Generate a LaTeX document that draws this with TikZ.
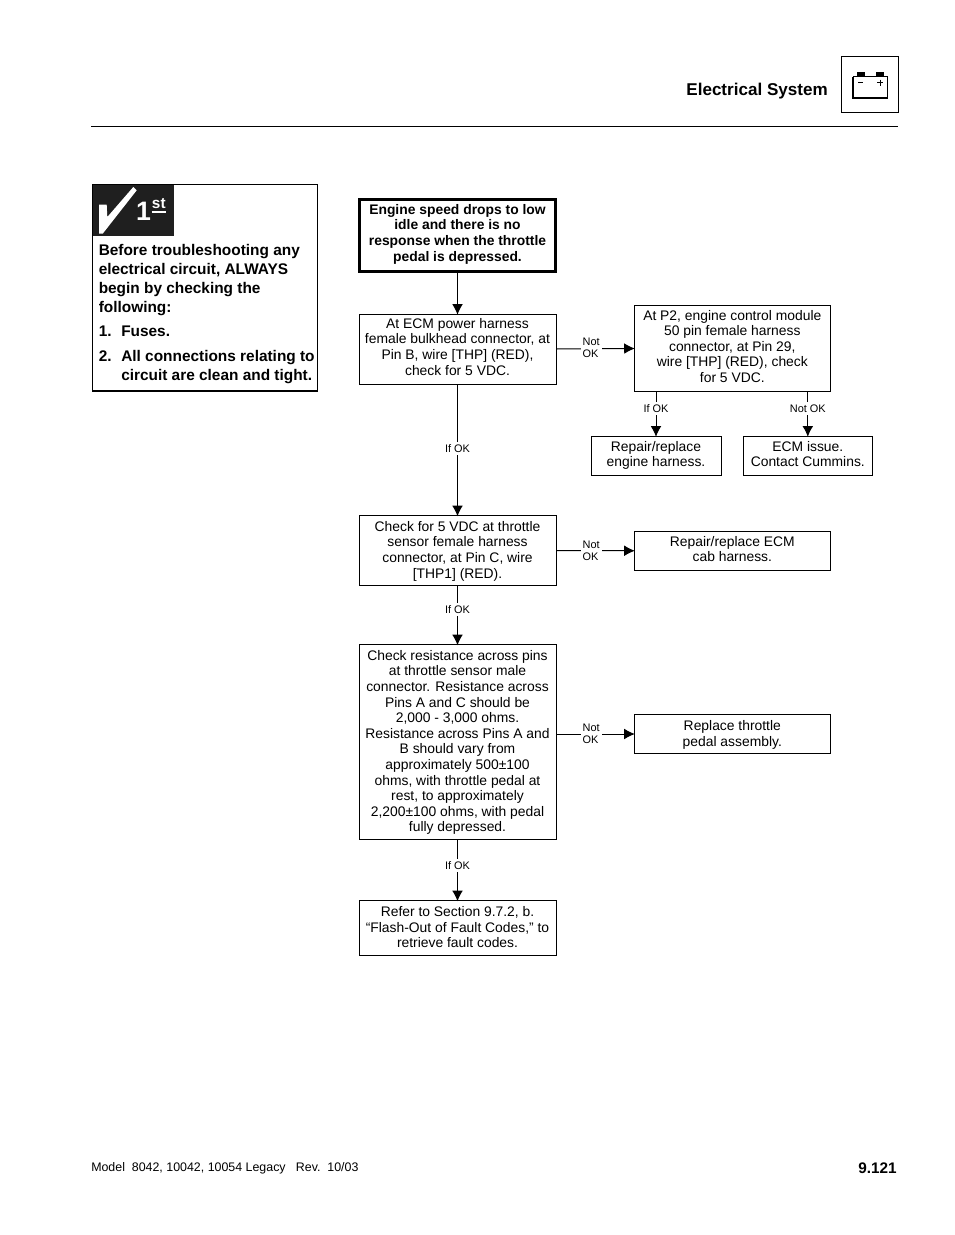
\documentclass[tikz,border=0pt]{standalone}
\usepackage{fontspec}
\setmainfont{Liberation Sans}
\usetikzlibrary{arrows.meta}
\newcommand{\flowfont}{\fontsize{10.4pt}{11.7pt}\selectfont}
\newcommand{\flowlines}[2]{\raisebox{\dimexpr#1-2.6pt\relax}[0pt][0pt]{\begin{tabular}{@{}c@{}}#2\end{tabular}}}
\tikzset{
  x=0.75pt,y=-0.75pt,
  flow/.style={draw=black,line width=0.75pt,fill=white,inner sep=0pt,font=\flowfont},
  flowstart/.style={flow,line width=2.1pt,font=\flowfont\bfseries},
  conn/.style={line width=0.75pt,shorten >=-1pt,-{Latex[length=8pt,width=8pt]}},
  lab/.style={fill=white,inner xsep=1.5pt,inner ysep=2pt,font=\fontsize{8.2pt}{9pt}\selectfont},
  labl/.style={lab,align=left},
  rule/.style={line width=0.75pt},
  side/.style={anchor=base west,inner sep=0pt,font=\fontsize{11.55pt}{14pt}\selectfont\bfseries},
}
\begin{document}
\begin{tikzpicture}
\useasboundingbox (0,0) rectangle (954,1235);
\fill[white] (0,0) rectangle (954,1235);
% header
\draw[rule] (91,126.5) -- (898,126.5);
\node[anchor=base east,inner sep=0pt,font=\fontsize{12.8pt}{14pt}\selectfont\bfseries] (title) at (828,95) {Electrical System};
\draw[line width=0.75pt] (841.5,56.5) rectangle (898.5,112.5);
\fill (856.5,72) rectangle (865,76.5);
\fill (875.5,72) rectangle (883.5,76.5);
\draw[line width=0.5pt] (853,76.5) -- (888,76.5);
\draw[line width=1.1pt] (853,76.5) -- (853,98) -- (887.5,98) -- (887.5,76.5);
\draw[line width=0.6pt] (858,82.5) -- (863,82.5);
\draw[line width=0.6pt] (877,82.5) -- (883,82.5) (880,79.5) -- (880,85.5);
% side panel
\draw[line width=1.1pt] (92.5,184.5) rectangle (317.5,391);
\fill[black!88] (93,185) rectangle (173.5,235.5);
\fill[white] (99,204.7) -- (106.7,204.7) -- (107.3,217) -- (133.3,187) -- (136.7,190.3) -- (102.7,233.7) -- (99,233.7) -- cycle;
\node[anchor=base,inner sep=0pt,text=white,font=\fontsize{20pt}{22pt}\selectfont\bfseries] (one) at (143.5,220.3) {1};
\node[anchor=base,inner sep=0pt,text=white,font=\fontsize{11.5pt}{12pt}\selectfont\bfseries] (st) at (158.8,208.7) {st};
\draw[white,line width=0.9pt] (151.7,212) -- (166,212);
\node[side] (s1) at (98.5,255) {Before troubleshooting any};
\node[side] (s2) at (98.5,274) {electrical circuit, ALWAYS};
\node[side] (s3) at (98.5,293) {begin by checking the};
\node[side] (s4) at (98.5,312) {following:};
\node[side] (s5) at (98.5,336) {1.};
\node[side] (s6) at (121,336) {Fuses.};
\node[side] (s7) at (98.5,361) {2.};
\node[side] (s8) at (121,361) {All connections relating to};
\node[side] (s9) at (121,380) {circuit are clean and tight.};
% boxes
\node[flowstart,minimum width=196*0.75pt,minimum height=72*0.75pt] (top) at (457.5,235.5) {\flowlines{0.75pt}{Engine speed drops to low\\idle and there is no\\response when the throttle\\pedal is depressed.}};
\node[flow,minimum width=197*0.75pt,minimum height=70*0.75pt] (a) at (457.5,349) {\flowlines{0.4pt}{At ECM power harness\\female bulkhead connector, at\\Pin B, wire [THP] (RED),\\check for 5 VDC.}};
\node[flow,minimum width=196.5*0.75pt,minimum height=85.5*0.75pt] (p2) at (732.3,348.5) {\flowlines{0.4pt}{At P2, engine control module\\50 pin female harness\\connector, at Pin 29,\\wire [THP] (RED), check\\for 5 VDC.}};
\node[flow,minimum width=130*0.75pt,minimum height=39.5*0.75pt] (rr) at (656,455.75) {\flowlines{0pt}{Repair/replace\\engine harness.}};
\node[flow,minimum width=129.5*0.75pt,minimum height=39.5*0.75pt] (ecm) at (807.8,455.75) {\flowlines{0pt}{ECM issue.\\Contact Cummins.}};
\node[flow,minimum width=197*0.75pt,minimum height=70*0.75pt] (b) at (457.5,550.5) {\flowlines{-0.75pt}{Check for 5 VDC at throttle\\sensor female harness\\connector, at Pin C, wire\\{[THP1]} (RED).}};
\node[flow,minimum width=196.5*0.75pt,minimum height=39.5*0.75pt] (c2) at (732.3,550.75) {\flowlines{0pt}{Repair/replace ECM\\cab harness.}};
\node[flow,minimum width=197*0.75pt,minimum height=195*0.75pt] (c) at (457.5,742) {\flowlines{-0.6pt}{Check resistance across pins\\at throttle sensor male\\connector. Resistance across\\Pins A and C should be\\2,000 - 3,000 ohms.\\Resistance across Pins A and\\B should vary from\\approximately 500±100\\ohms, with throttle pedal at\\rest, to approximately\\2,200±100 ohms, with pedal\\fully depressed.}};
\node[flow,minimum width=196.5*0.75pt,minimum height=39.5*0.75pt] (d2) at (732.3,734) {\flowlines{-0.75pt}{Replace throttle\\pedal assembly.}};
\node[flow,minimum width=197*0.75pt,minimum height=55*0.75pt] (e) at (457.5,928) {\flowlines{-0.75pt}{Refer to Section 9.7.2, b.\\“Flash-Out of Fault Codes,” to\\retrieve fault codes.}};
% connectors
\draw[conn] (top) -- (a);
\draw[conn] (a) -- node[lab,pos=0.49] {If OK} (b);
\draw[conn] (b) -- node[lab,pos=0.40] {If OK} (c);
\draw[conn] (c) -- node[lab,pos=0.42] {If OK} (e);
\draw[conn] (a.east) -- node[labl,pos=0.45,yshift=0.6pt] {Not\\OK} (p2.west);
\draw[conn] (b.east) -- node[labl,pos=0.45] {Not\\OK} (c2.west);
\draw[conn] (c.east |- d2.west) -- node[labl,pos=0.45] {Not\\OK} (d2.west);
\draw[conn] (p2.south -| rr.north) -- node[lab,pos=0.38] {If OK} (rr.north);
\draw[conn] (p2.south -| ecm.north) -- node[lab,pos=0.38] {Not OK} (ecm.north);
% footer
\node[anchor=base west,inner sep=0pt,font=\fontsize{9.3pt}{11pt}\selectfont] (foot) at (91,1171.5) {Model\ \ 8042, 10042, 10054 Legacy\ \ \ Rev.\ \ 10/03};
\node[anchor=base east,inner sep=0pt,font=\fontsize{11.5pt}{14pt}\selectfont\bfseries] (page) at (897,1173) {9.121};
\end{tikzpicture}
\end{document}
